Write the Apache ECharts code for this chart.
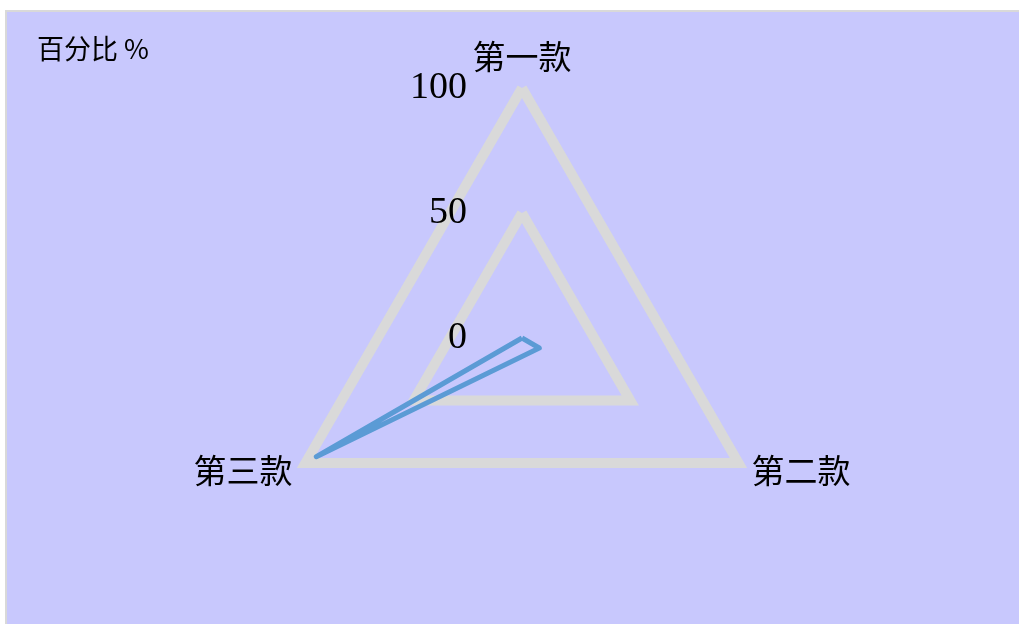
<!DOCTYPE html>
<html>
<head>
<meta charset="utf-8">
<script src="https://cdn.jsdelivr.net/npm/echarts@6/dist/echarts.min.js"></script>
<style>
  html, body { margin: 0; padding: 0; background: #fff; overflow: hidden; }
  .frame {
    position: absolute; left: 5px; top: 10px;
    width: 1020px; height: 620px;
    border-left: 2px solid #d9d9d9;
    border-top: 2px solid #d9d9d9;
    background: #c8c8fd;
  }
  #chart { position: absolute; left: -7px; top: -12px; width: 1019px; height: 624px; }
</style>
</head>
<body>
<div class="frame"><div id="chart"></div></div>
<script>
// 雷达图数据（顺时针顺序）
const indicatorNames = ['第一款', '第二款', '第三款'];
const indicatorMax = [100, 100, 100];
const seriesValues = [0, 8, 95];
const titleText = '百分比 %';

const chart = echarts.init(document.getElementById('chart'));

// echarts 的雷达图是逆时针排列，这里把顺序翻一下让第二款在右下
const order = [0, 2, 1];

const indicators = order.map((i, k) => ({
  name: indicatorNames[i],
  max: indicatorMax[i],
  min: 0,
  // 只在第一个轴上显示刻度文字
  axisLabel: { show: k === 0 }
}));

const option = {
  backgroundColor: 'transparent',
  animation: false,
  title: {
    text: titleText,
    left: 32,
    top: 30,
    textStyle: {
      fontFamily: 'Noto Sans CJK SC',
      fontWeight: 'normal',
      fontSize: 27,
      color: '#000'
    }
  },
  radar: {
    center: [522, 338],
    radius: 250,
    shape: 'polygon',
    splitNumber: 2,
    startAngle: 90,
    indicator: indicators,
    axisName: {
      color: '#000',
      fontFamily: 'Noto Sans CJK SC',
      fontSize: 33
    },
    nameGap: 15,
    axisLine: { show: false },
    axisTick: { show: false },
    splitArea: { show: false },
    splitLine: {
      lineStyle: { color: '#d9d9d9', width: 10 }
    },
    axisLabel: {
      show: false,
      color: '#000',
      fontFamily: 'Liberation Serif',
      fontSize: 38,
      margin: 55
    }
  },
  series: [
    {
      type: 'radar',
      symbol: 'none',
      lineStyle: { color: '#5b9bd5', width: 5 },
      itemStyle: { color: '#5b9bd5' },
      data: [{ value: order.map(i => seriesValues[i]), name: '百分比' }]
    }
  ]
};

chart.setOption(option);
</script>
</body>
</html>
